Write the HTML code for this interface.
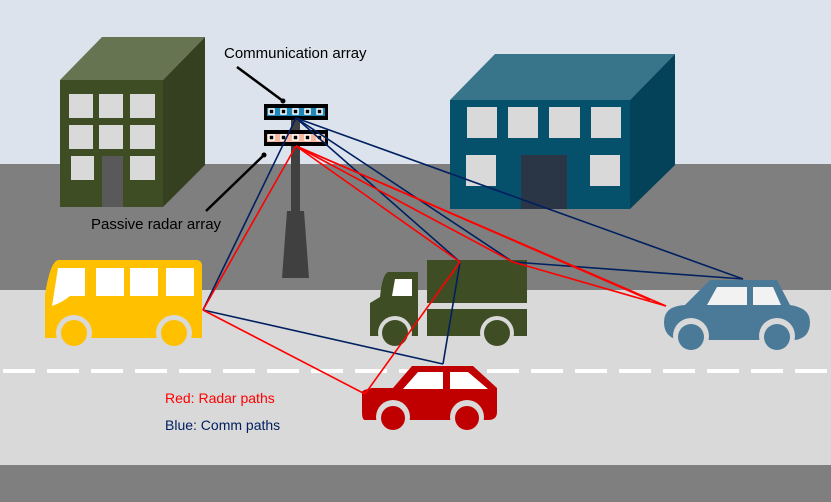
<!DOCTYPE html><html><head><style>body{margin:0}svg{display:block}</style></head><body>
<svg width="831" height="502" viewBox="0 0 831 502" xmlns="http://www.w3.org/2000/svg" font-family="Liberation Sans, sans-serif">
<rect width="831" height="502" fill="#dce3ec"/>
<rect y="164" width="831" height="126" fill="#7f7f7f"/>
<rect y="290" width="831" height="175" fill="#d9d9d9"/>
<rect y="465" width="831" height="37" fill="#7f7f7f"/>
<line x1="3" y1="371" x2="831" y2="371" stroke="#fff" stroke-width="4" stroke-dasharray="32 12"/>
<!-- left building -->
<polygon points="60,80 102,37 205,37 163,80" fill="#667452"/>
<polygon points="163,80 205,37 205,165 163,207" fill="#354020"/>
<rect x="60" y="80" width="103" height="127" fill="#3f4d25"/>
<g fill="#d9d9d9"><rect x="69" y="94" width="24" height="24"/><rect x="99" y="94" width="24" height="24"/><rect x="130" y="94" width="25" height="24"/><rect x="69" y="125" width="24" height="24"/><rect x="99" y="125" width="24" height="24"/><rect x="130" y="125" width="25" height="24"/><rect x="71" y="156" width="23" height="24"/><rect x="130" y="156" width="25" height="24"/></g>
<rect x="102" y="156" width="21" height="51" fill="#595959"/>
<!-- right building -->
<polygon points="450,100 495,54 675,54 630,100" fill="#38748a"/>
<polygon points="630,100 675,54 675,165 630,209" fill="#034259"/>
<rect x="450" y="100" width="180" height="109" fill="#05506b"/>
<g fill="#d9d9d9"><rect x="467" y="107" width="30" height="31"/><rect x="508" y="107" width="30" height="31"/><rect x="549" y="107" width="31" height="31"/><rect x="591" y="107" width="30" height="31"/><rect x="466" y="155" width="30" height="31"/><rect x="590" y="155" width="30" height="31"/></g>
<rect x="521" y="155" width="46" height="54" fill="#2a3546"/>
<!-- pole -->
<rect x="291" y="118" width="9" height="95" fill="#404040"/>
<polygon points="287,211 304,211 309,278 282,278" fill="#404040"/>
<!-- arrays -->
<rect x="264" y="104" width="64" height="16" fill="#000"/>
<rect x="267" y="108" width="58" height="8" fill="#1f88b8"/>
<rect x="264" y="130" width="64" height="16" fill="#000"/>
<rect x="267" y="134" width="58" height="8" fill="#f4b9a0"/>
<g fill="#000" stroke="#fff" stroke-width="1.5"><rect x="269" y="109" width="5" height="5"/><rect x="281" y="109" width="5" height="5"/><rect x="293" y="109" width="5" height="5"/><rect x="305" y="109" width="5" height="5"/><rect x="317" y="109" width="5" height="5"/><rect x="269" y="135" width="5" height="5"/><rect x="281" y="135" width="5" height="5"/><rect x="293" y="135" width="5" height="5"/><rect x="305" y="135" width="5" height="5"/><rect x="317" y="135" width="5" height="5"/></g>
<line x1="237" y1="67" x2="283" y2="101" stroke="#000" stroke-width="2.5"/><circle cx="283" cy="101" r="2.5"/>
<line x1="206" y1="211" x2="264" y2="155" stroke="#000" stroke-width="2.5"/><circle cx="264" cy="155" r="2.5"/>
<text x="224" y="58" font-size="15">Communication array</text>
<text x="91" y="229" font-size="15">Passive radar array</text>
<!-- bus -->
<path d="M58,260 H196 Q202,260 202,266 V338 H45 V295 Q50,262 58,260 Z" fill="#ffc000"/>
<path d="M58,268 H85 V296 H70 Q63,302 52,306 Z" fill="#fff"/>
<rect x="96" y="268" width="28" height="28" fill="#fff"/><rect x="130" y="268" width="28" height="28" fill="#fff"/><rect x="166" y="268" width="28" height="28" fill="#fff"/>
<circle cx="74" cy="333" r="18" fill="#d9d9d9"/><circle cx="74" cy="333" r="13" fill="#ffc000"/>
<circle cx="174" cy="333" r="18" fill="#d9d9d9"/><circle cx="174" cy="333" r="13" fill="#ffc000"/>
<!-- truck -->
<rect x="427" y="260" width="100" height="43" fill="#3f4d25"/><rect x="427" y="309" width="100" height="27" fill="#3f4d25"/>
<path d="M388,272 H418 V336 H370 V303 L380,297 Q382,275 388,272 Z" fill="#3f4d25"/>
<path d="M395,279 H412 V296 H392 Z" fill="#fff"/>
<circle cx="395" cy="333" r="17" fill="#d9d9d9"/><circle cx="395" cy="333" r="13" fill="#3f4d25"/>
<circle cx="497" cy="333" r="17" fill="#d9d9d9"/><circle cx="497" cy="333" r="13" fill="#3f4d25"/>
<!-- red car -->
<path d="M412,366 H473 L497,388 V412 Q497,420 488,420 H365 Q362,420 362,412 V392 Q362,390 372,388 H393 Z" fill="#c00000"/>
<path d="M418,372 H443 V389 H403 Z M450,372 H468 L488,389 H450 Z" fill="#fff"/>
<circle cx="393" cy="417" r="17" fill="#d9d9d9"/><circle cx="393" cy="418" r="12" fill="#c00000"/>
<circle cx="467" cy="417" r="17" fill="#d9d9d9"/><circle cx="467" cy="418" r="12" fill="#c00000"/>
<!-- blue car -->
<path d="M710,280 H777 L790,305 Q810,308 810,322 Q810,338 795,340 H680 Q664,338 664,322 Q664,306 685,305 Z" fill="#4a7a98"/>
<path d="M717,287 H747 V305 H707 Z M753,287 H773 L781,305 H753 Z" fill="#f2f2f2"/>
<circle cx="691" cy="336" r="18" fill="#d9d9d9"/><circle cx="691" cy="337" r="13" fill="#4a7a98"/>
<circle cx="777" cy="336" r="18" fill="#d9d9d9"/><circle cx="777" cy="337" r="13" fill="#4a7a98"/>
<!-- paths -->
<g stroke="#002060" stroke-width="1.6" fill="none">
<line x1="296" y1="118" x2="203" y2="310"/>
<line x1="296" y1="118" x2="460" y2="262"/>
<line x1="296" y1="118" x2="513" y2="262"/>
<line x1="296" y1="118" x2="743" y2="279"/>
<line x1="513" y1="262" x2="743" y2="279"/>
<line x1="460" y1="262" x2="443" y2="364"/>
<line x1="203" y1="310" x2="443" y2="364"/>
</g>
<g stroke="#ff0000" stroke-width="1.6" fill="none">
<line x1="296" y1="146" x2="203" y2="310"/>
<line x1="296" y1="146" x2="460" y2="262"/>
<line x1="296" y1="146" x2="513" y2="262"/>
<line x1="296" y1="146" x2="666" y2="306"/>
<line x1="296" y1="146" x2="650" y2="300"/>
<line x1="513" y1="262" x2="666" y2="306"/>
<line x1="460" y1="262" x2="365" y2="394"/>
<line x1="203" y1="310" x2="365" y2="394"/>
</g>
<text x="165" y="403" font-size="14" fill="#ff0000">Red: Radar paths</text>
<text x="165" y="430" font-size="14" fill="#002060">Blue: Comm paths</text>
</svg></body></html>
